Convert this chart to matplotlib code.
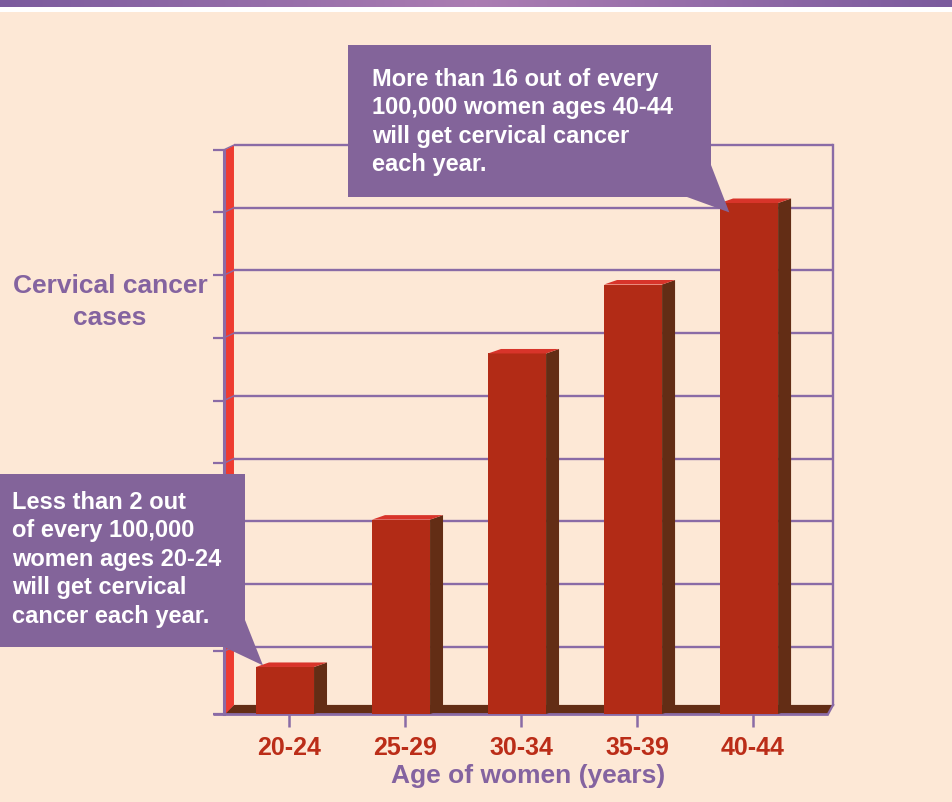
import matplotlib.pyplot as plt
from matplotlib.patches import Polygon, Rectangle
import numpy as np

# --- data ---
age_groups = ['20-24', '25-29', '30-34', '35-39', '40-44']
cases = [1.5, 6.2, 11.5, 13.7, 16.3]      # per 100,000 women
grid_values = [2, 4, 6, 8, 10, 12, 14, 16, 18]

top_note = "More than 16 out of every\n100,000 women ages 40-44\nwill get cervical cancer\neach year."
low_note = "Less than 2 out\nof every 100,000\nwomen ages 20-24\nwill get cervical\ncancer each year."

# --- colours ---
bg = '#fde8d6'
box_purple = '#83649a'
line_purple = '#8a6ba6'
text_purple = '#8463a0'
bar_front = '#b22b16'
bar_top = '#d8342a'
bar_side = '#632d15'
wall_red = '#ee3b30'
label_red = '#bb2d18'

plt.rcParams['font.family'] = ['Liberation Sans', 'DejaVu Sans']
plt.rcParams['font.weight'] = 'bold'

W, H = 952, 802
fig = plt.figure(figsize=(W / 100, H / 100), dpi=100, facecolor=bg)


def fx(px):
    return px / W


def fy(py):
    return 1 - py / H


# top banner (gradient) + white strip
band = fig.add_axes([0, fy(7), 1, 7 / H])
grad = np.abs(np.linspace(-1, 1, 400))
band.imshow(grad[None, :], aspect='auto', cmap=plt.matplotlib.colors.LinearSegmentedColormap.from_list(
    'b', ['#ab7db2', '#7b5b9d']), extent=[0, 1, 0, 1])
band.axis('off')
fig.patches.append(Rectangle((0, fy(12)), 1, 5 / H, transform=fig.transFigure,
                             facecolor='white', edgecolor='none'))

# main axes
ax = fig.add_axes([fx(224), fy(714), (834 - 224) / W, (714 - 140) / H])
ax.set_facecolor('none')
x = np.arange(len(age_groups))
x0, x1 = -0.56, 4.698
ax.set_xlim(x0, x1)
ax.set_ylim(0, 18.31)
for s in ax.spines.values():
    s.set_visible(False)

wall_dx, wall_dy = 0.086, 0.15
right_wall = 4.69
floor_right = 4.647

# floor slab
ax.add_patch(Polygon([(x0, 0), (floor_right, 0), (right_wall, 0.29), (x0 + wall_dx, 0.29)],
                     closed=True, facecolor=bar_side, edgecolor='none', zorder=1))
# red left wall
ax.add_patch(Polygon([(x0 + 0.012, 0), (x0 + 0.012, 18), (x0 + wall_dx, 18 + wall_dy),
                      (x0 + wall_dx, 0.29)],
                     closed=True, facecolor=wall_red, edgecolor='none', zorder=1, clip_on=False))
# back grid lines + connectors to the front ticks
for v in grid_values:
    ax.plot([x0 + wall_dx, right_wall], [v + wall_dy] * 2, color=line_purple, lw=1.7,
            zorder=0.5, clip_on=False, solid_capstyle='butt')
    ax.plot([x0, x0 + wall_dx], [v, v + wall_dy], color=line_purple, lw=1.0, zorder=2,
            clip_on=False)
# right wall edge
ax.plot([right_wall, right_wall], [0.29, 18 + wall_dy], color=line_purple, lw=1.7,
        zorder=2, clip_on=False)
ax.plot([floor_right, right_wall], [0, 0.29], color=line_purple, lw=1.6, zorder=2, clip_on=False)
# front axis line and baseline
ax.plot([x0, x0], [0, 18], color=line_purple, lw=2.2, zorder=3, clip_on=False)
ax.plot([x0 - 0.095, floor_right], [0, 0], color=line_purple, lw=2.0, zorder=3, clip_on=False,
        solid_capstyle='butt')

# 3D bars
bar_w = 0.5
bar_off = -0.034
depth_x, depth_y = 0.112, 0.144
ax.bar(x + bar_off, cases, width=bar_w, color=bar_front, zorder=4)
for xi, v in zip(x, cases):
    xl = xi + bar_off - bar_w / 2
    xr = xi + bar_off + bar_w / 2
    ax.add_patch(Polygon([(xr, 0), (xr + depth_x, depth_y), (xr + depth_x, v + depth_y), (xr, v)],
                         closed=True, facecolor=bar_side, edgecolor='none', zorder=4))
    ax.add_patch(Polygon([(xl, v), (xl + depth_x, v + depth_y), (xr + depth_x, v + depth_y), (xr, v)],
                         closed=True, facecolor=bar_top, edgecolor='none', zorder=4))

# ticks
ax.set_xticks(x)
ax.set_xticklabels(age_groups, color=label_red, fontsize=18, fontweight='bold')
ax.tick_params(axis='x', direction='out', length=9.5, width=1.8, color=line_purple, pad=6)
ax.set_yticks([0] + grid_values)
ax.set_yticklabels([])
ax.tick_params(axis='y', direction='out', length=8, width=1.6, color=line_purple)

# axis titles
fig.text(fx(110), fy(302), "Cervical cancer\ncases", ha='center', va='center', fontsize=19,
         color=text_purple, fontweight='bold', linespacing=1.38)
fig.text(fx(528), fy(776), "Age of women (years)", ha='center', va='center', fontsize=19,
         color=text_purple, fontweight='bold')


# callouts: box in figure pixels, pointer tip on the bar (data coords)
def callout(box, text, tip_data, base_pts, text_xy, fs):
    left, top, right, bottom = box
    tip = fig.transFigure.inverted().transform(ax.transData.transform(tip_data))
    fig.patches.append(Rectangle((fx(left), fy(bottom)), fx(right - left), (bottom - top) / H,
                                 transform=fig.transFigure, facecolor=box_purple,
                                 edgecolor='none', zorder=10))
    pts = [(fx(px), fy(py)) for px, py in base_pts]
    fig.patches.append(Polygon([pts[0], tuple(tip), pts[1], (fx(right), fy(bottom))], closed=True,
                               transform=fig.transFigure, facecolor=box_purple,
                               edgecolor='none', zorder=10))
    fig.text(fx(text_xy[0]), fy(text_xy[1]), text, ha='left', va='top', fontsize=fs,
             color='white', fontweight='bold', linespacing=1.3, zorder=11)


i_hi = len(cases) - 1
callout((348, 45, 711, 197), top_note,
        (x[i_hi] + bar_off - bar_w / 2 + 0.08, cases[i_hi] - 0.3),
        [(687, 197), (711, 165)], (372, 68), 17)
callout((0, 474, 245, 647), low_note,
        (x[0] + bar_off - bar_w / 2 + 0.06, cases[0] + 0.05),
        [(224, 647), (245, 620)], (12, 491), 17)

fig.savefig('out.png', dpi=100, facecolor=bg)
